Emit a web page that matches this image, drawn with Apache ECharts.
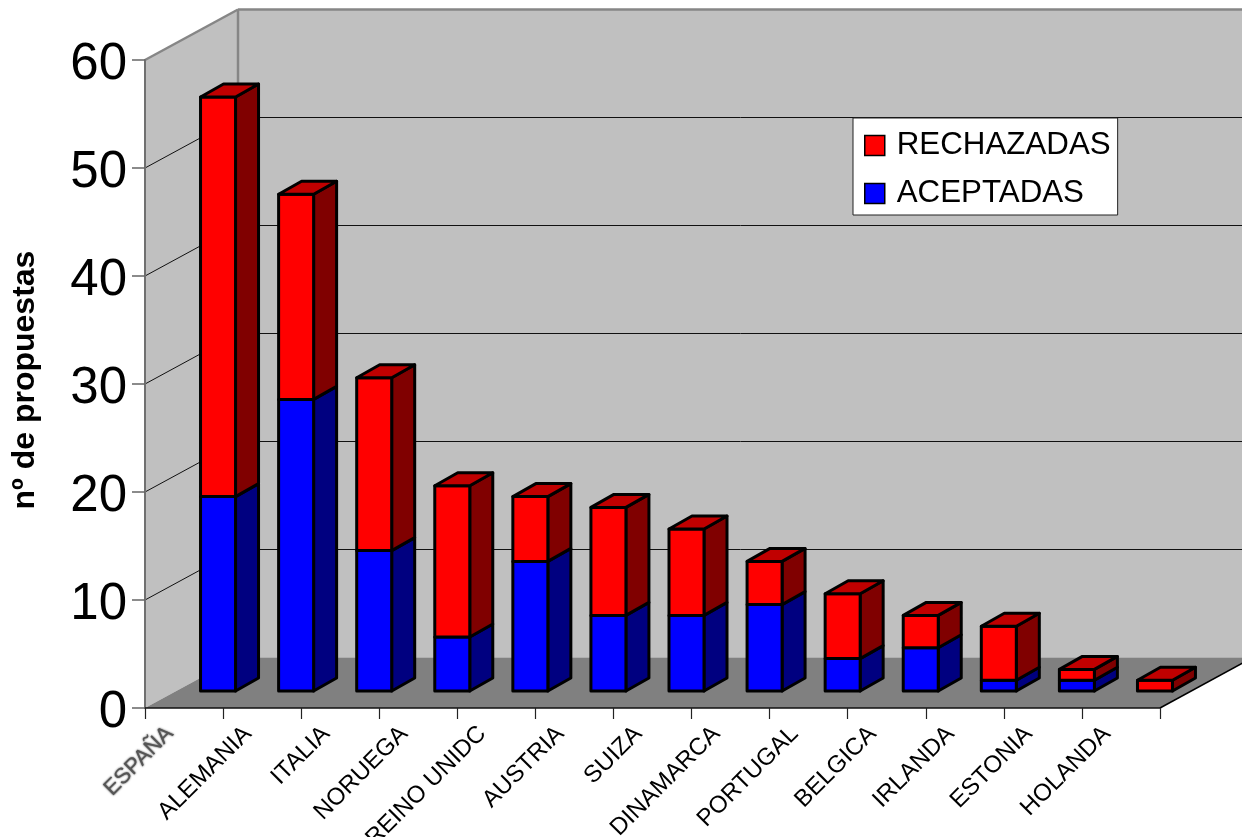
<!DOCTYPE html>
<html>
<head>
<meta charset="utf-8">
<style>html,body{margin:0;padding:0;background:#fff}#c{width:1242px;height:837px}</style>
<script src="https://cdn.jsdelivr.net/npm/echarts@6/dist/echarts.min.js"></script>
</head>
<body>
<div id="c"></div>
<script>
const categories = ['ESPAÑA','ALEMANIA','ITALIA','NORUEGA','REINO UNIDC','AUSTRIA','SUIZA','DINAMARCA','PORTUGAL','BELGICA','IRLANDA','ESTONIA','HOLANDA'];
const aceptadas  = [18,27,13,5,12,7,7,8,3,4,1,1,0];
const rechazadas = [37,19,16,14,6,10,8,4,6,3,5,1,1];
const yTicks = [0,10,20,30,40,50,60];

const FONT = '"Liberation Sans", Arial, sans-serif';
const WALL_DX = 93, WALL_DY = -50.5;   // depth of the chart box
const BAR_SHIFT_X = 34, BAR_SHIFT_Y = -17; // bar's front plane inside the box
const BAR_DX = 23, BAR_DY = -13;       // depth of one bar
const BAR_W = 35;

function poly(points, fill, stroke, lw) {
  return { type:'polygon', shape:{points}, style:{fill, stroke:stroke||null, lineWidth:lw||0, lineJoin:'round'} };
}
function line(p, q, stroke, lw) {
  return { type:'line', shape:{x1:p[0],y1:p[1],x2:q[0],y2:q[1]}, style:{stroke, lineWidth:lw, fill:null} };
}

function renderWall(params, api) {
  const g = params.coordSys, L = g.x, R = g.x + g.width;
  const items = [];
  const y0 = api.coord([0, 0])[1], yTop = api.coord([0, 60])[1];
  const bx = L + WALL_DX;
  items.push(poly([[L,yTop],[bx,yTop+WALL_DY],[bx,y0+WALL_DY],[L,y0]], '#c0c0c0'));
  items.push(poly([[bx,yTop+WALL_DY],[R+WALL_DX,yTop+WALL_DY],[R+WALL_DX,y0+WALL_DY],[bx,y0+WALL_DY]], '#c0c0c0'));
  items.push(poly([[L,y0],[bx,y0+WALL_DY],[R+WALL_DX,y0+WALL_DY],[R,y0]], '#808080'));
  yTicks.forEach(t => {
    if (t === 0 || t === 60) return;
    const y = api.coord([0, t])[1];
    items.push(line([L,y],[bx,y+WALL_DY],'#111',1));
    items.push(line([bx,y+WALL_DY],[R+WALL_DX,y+WALL_DY],'#111',1));
  });
  items.push(line([L,yTop],[bx,yTop+WALL_DY],'#868686',2.5));
  items.push(line([bx,yTop+WALL_DY],[R+WALL_DX,yTop+WALL_DY],'#868686',2.5));
  items.push(line([bx,yTop+WALL_DY],[bx,y0+WALL_DY],'#868686',2.5));
  items.push(line([R,y0],[R+WALL_DX,y0+WALL_DY],'#000',1.5));
  return { type:'group', children:items };
}

function makeBar(front, side, top) {
  return function (params, api) {
    const i = api.value(0), lo = api.value(1), hi = api.value(2);
    if (hi <= lo) return null;
    const a = api.coord([i, lo]), b = api.coord([i, hi]);
    const x0 = a[0] + BAR_SHIFT_X - BAR_W/2, x1 = x0 + BAR_W;
    const yb = a[1] + BAR_SHIFT_Y, yt = b[1] + BAR_SHIFT_Y;
    const st = { stroke:'#000', lw:3 };
    const kids = [
      poly([[x1,yb],[x1+BAR_DX,yb+BAR_DY],[x1+BAR_DX,yt+BAR_DY],[x1,yt]], side, st.stroke, st.lw),
      poly([[x0,yb],[x1,yb],[x1,yt],[x0,yt]], front, st.stroke, st.lw)
    ];
    if (top) kids.push(poly([[x0,yt],[x1,yt],[x1+BAR_DX,yt+BAR_DY],[x0+BAR_DX,yt+BAR_DY]], top, st.stroke, st.lw));
    return { type:'group', children:kids };
  };
}

const acepData = categories.map((c,i) => [i, 0, aceptadas[i]]);
const rechData = categories.map((c,i) => [i, aceptadas[i], aceptadas[i]+rechazadas[i]]);

const chart = echarts.init(document.getElementById('c'), null, {renderer:'canvas'});
chart.setOption({
  animation:false,
  backgroundColor:'#fff',
  grid:{ left:145, top:60, width:1015, height:648, containLabel:false, outerBoundsMode:'none' },
  legend:{
    data:['RECHAZADAS','ACEPTADAS'],
    orient:'vertical', left:853, top:118,
    padding:[12,7,6,11], itemGap:17,
    itemWidth:20, itemHeight:20, icon:'rect',
    backgroundColor:'#fff', borderColor:'#222', borderWidth:1,
    itemStyle:{ borderColor:'#000', borderWidth:1.5 },
    textStyle:{ fontFamily:FONT, fontSize:31.3, color:'#000', padding:[0,0,0,7] },
    z:20, selectedMode:false
  },
  xAxis:{
    type:'category', data:categories.map((c,i)=> i===0 ? {value:c, textStyle:{color:'#555', textShadowColor:'#333', textShadowBlur:2, fontSize:22}} : c),
    boundaryGap:true, z:6,
    axisLine:{ lineStyle:{color:'#111', width:1.5} },
    axisTick:{ show:true, length:11, alignWithLabel:false, lineStyle:{color:'#222', width:1.2} },
    axisLabel:{ interval:0, rotate:45, margin:8, padding:[0,20,0,0], fontFamily:FONT, fontSize:24, color:'#000', hideOverlap:false }
  },
  yAxis:{
    type:'value', min:0, max:60, interval:10, z:6,
    name:'nº de propuestas', nameLocation:'middle', nameRotate:90, nameGap:94,
    nameTextStyle:{ fontFamily:FONT, fontSize:32, fontWeight:'bold', color:'#000', padding:[0,0,10,8] },
    axisLine:{ show:true, lineStyle:{color:'#707070', width:2} },
    axisTick:{ show:true, length:13, lineStyle:{color:'#666', width:1.5} },
    axisLabel:{ margin:18, formatter:'{v|{value}}', rich:{ v:{ fontFamily:FONT, fontSize:51, color:'#000', lineHeight:52, padding:[9,0,0,0] } } },
    splitLine:{ show:false }
  },
  series:[
    { name:'wall', type:'custom', z:1, silent:true, renderItem:renderWall, data:[[0,0,60]], encode:{x:0,y:[1,2]}, tooltip:{show:false} },
    { name:'ACEPTADAS', type:'custom', z:2, renderItem:makeBar('#0000ff','#000080',null), data:acepData, encode:{x:0,y:[1,2]}, itemStyle:{color:'#0000ff'} },
    { name:'RECHAZADAS', type:'custom', z:3, renderItem:makeBar('#ff0000','#800000','#c00000'), data:rechData, encode:{x:0,y:[1,2]}, itemStyle:{color:'#ff0000'} }
  ]
});
</script>
</body>
</html>
